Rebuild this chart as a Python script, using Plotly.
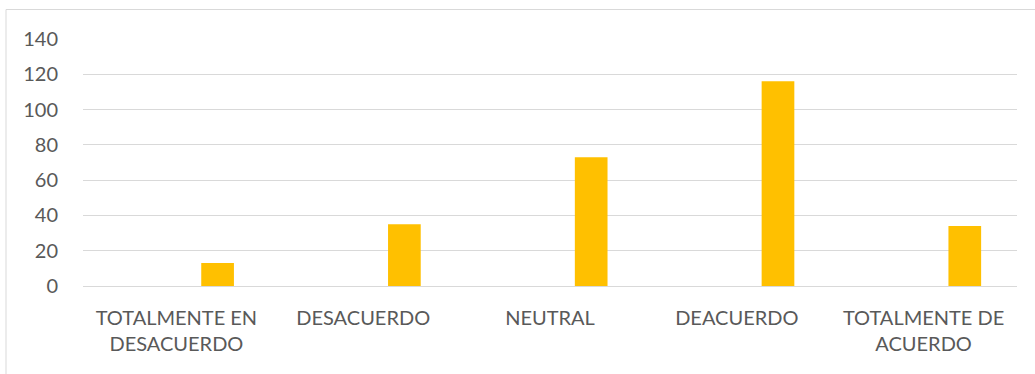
import plotly.graph_objects as go

categories = ["TOTALMENTE EN<br>DESACUERDO", "DESACUERDO", "NEUTRAL", "DEACUERDO", "TOTALMENTE DE<br>ACUERDO"]
values = [13, 35, 73, 116, 34]
y_ticks = [0, 20, 40, 60, 80, 100, 120, 140]

W, H = 1035, 374
L, R, T, B = 83, 18, 39, 88
pw, ph = W - L - R, H - T - B

fig = go.Figure()
fig.add_trace(go.Bar(
    x=categories, y=values,
    offset=0.133, width=0.175,
    marker=dict(color="#FFC000", line=dict(width=0)),
    hoverinfo="x+y",
))

def px_to_paper_x(px):
    return (px - L) / pw

def px_to_paper_y(py):
    return (H - B - py) / ph

fig.update_layout(
    width=W, height=H,
    margin=dict(l=L, r=R, t=T, b=B),
    paper_bgcolor="white", plot_bgcolor="white",
    showlegend=False,
    font=dict(family="Lato, Open Sans, sans-serif", color="#595959", size=20),
    xaxis=dict(
        type="category",
        showgrid=False,
        showline=True, linecolor="#D9D9D9", linewidth=1,
        ticks="", tickfont=dict(size=20, color="#595959"),
        ticklabelstandoff=14,
        fixedrange=True,
    ),
    yaxis=dict(
        range=[0, 140],
        tickvals=y_ticks,
        ticktext=[str(v) for v in y_ticks],
        showgrid=True, gridcolor="#D9D9D9", gridwidth=1,
        zeroline=False, showline=False,
        ticks="", tickfont=dict(size=20, color="#595959"),
        ticklabelstandoff=24,
        fixedrange=True,
    ),
    shapes=[dict(
        type="rect", xref="paper", yref="paper",
        x0=px_to_paper_x(6), x1=px_to_paper_x(1045),
        y0=px_to_paper_y(9.5), y1=px_to_paper_y(390),
        line=dict(color="#D9D9D9", width=1), fillcolor="rgba(0,0,0,0)",
        layer="below",
    )],
)

fig.write_html("out.html")
